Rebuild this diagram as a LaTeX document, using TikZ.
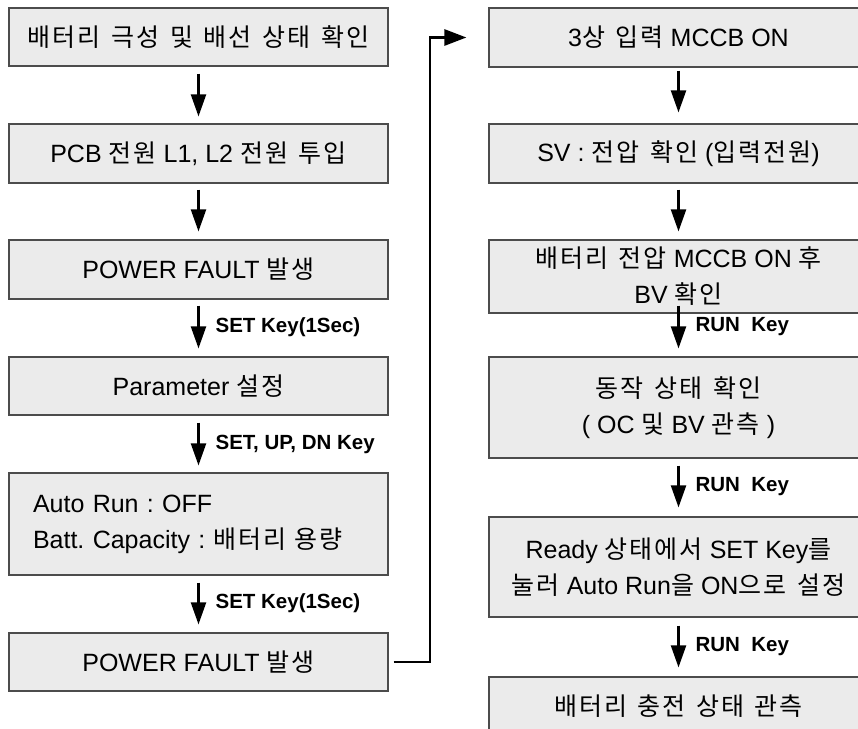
\documentclass[tikz,border=0pt]{standalone}
\usepackage{fontspec}
\setmainfont{Liberation Sans}
\newfontfamily\krfont[LetterSpace=8, WordSpace=1.4]{Noto Sans CJK KR}
\newcommand{\ko}[1]{{\krfont #1}}
\usetikzlibrary{arrows.meta}
\frenchspacing

\tikzset{
	stepbox/.style={draw=black!70, fill=black!8, line width=1.2pt, minimum width=379pt, inner sep=0pt, align=center, font=\fontsize{25}{36}\selectfont},
	flow/.style={line width=2.2pt, -{Triangle[length=22pt,width=15pt]}},
	link/.style={line width=2.8pt, -{Triangle[length=22pt,width=16pt]}},
	keylab/.style={anchor=west, xshift=16pt, inner sep=0pt, font=\fontsize{20.5}{24}\selectfont\bfseries},
}

\begin{document}
\begin{tikzpicture}[x=1pt, y=-1pt]
	\useasboundingbox (0,0) rectangle (858,728);

%left column
	\node[stepbox, minimum height=58pt] (l1) at (198.5,37) {\ko{배터리 극성 및 배선 상태 확인}};
	\node[stepbox, minimum height=59pt] (l2) at (198.5,153.5) {PCB \ko{전원} L1, L2 \ko{전원 투입}};
	\node[stepbox, minimum height=59pt] (l3) at (198.5,269.5) {POWER FAULT \ko{발생}};
	\node[stepbox, minimum height=58pt] (l4) at (198.5,386) {Parameter \ko{설정}};
	\node[stepbox, minimum height=102pt, align=left, text width=331pt] (l5) at (198.5,524) {Auto Run : OFF\\Batt. Capacity : \ko{배터리 용량}};
	\node[stepbox, minimum height=58pt] (l6) at (198.5,662) {POWER FAULT \ko{발생}};

%right column
	\node[stepbox, minimum height=59pt] (r1) at (678.5,37.5) {3\ko{상 입력} MCCB ON};
	\node[stepbox, minimum height=59pt] (r2) at (678.5,153.5) {SV : \ko{전압 확인} (\ko{입력전원})};
	\node[stepbox, minimum height=73pt] (r3) at (678.5,276.5) {\ko{배터리 전압} MCCB ON \ko{후}\\BV \ko{확인}};
	\node[stepbox, minimum height=101pt] (r4) at (678.5,407.5) {\ko{동작 상태 확인}\\( OC \ko{및} BV \ko{관측} )};
	\node[stepbox, minimum height=100pt] (r5) at (678.5,567) {Ready \ko{상태에서} SET Key\ko{를}\\\ko{눌러} Auto Run\ko{을} ON\ko{으로 설정}};
	\node[stepbox, minimum height=58pt] (r6) at (678.5,706) {\ko{배터리 충전 상태 관측}};

%arrows left
	\draw[flow] ([yshift=-7pt]l1.south) -- ([yshift=7pt]l2.north);
	\draw[flow] ([yshift=-6pt]l2.south) -- ([yshift=8pt]l3.north);
	\draw[flow] ([yshift=-6pt]l3.south) -- ([yshift=8pt]l4.north) node[keylab, midway] {SET Key(1Sec)};
	\draw[flow] ([yshift=-7pt]l4.south) -- ([yshift=7pt]l5.north) node[keylab, midway] {SET, UP, DN Key};
	\draw[flow] ([yshift=-7pt]l5.south) -- ([yshift=8pt]l6.north) node[keylab, midway] {SET Key(1Sec)};

%arrows right
	\draw[flow] ([yshift=-3pt]r1.south) -- ([yshift=11pt]r2.north);
	\draw[flow] ([yshift=-6pt]r2.south) -- ([yshift=8pt]r3.north);
	\draw[flow] ([yshift=8pt]r3.south) -- ([yshift=8pt]r4.north) node[keylab, midway] {RUN~ Key};
	\draw[flow] ([yshift=-7pt]r4.south) -- ([yshift=9pt]r5.north) node[keylab, midway] {RUN~ Key};
	\draw[flow] ([yshift=-8pt]r5.south) -- ([yshift=9pt]r6.north) node[keylab, midway] {RUN~ Key};

%link between columns
	\draw[link] ([xshift=5pt]l6.east) -| ([xshift=-58.5pt]r1.west) -- ([xshift=-22pt]r1.west);

\end{tikzpicture}
\end{document}
